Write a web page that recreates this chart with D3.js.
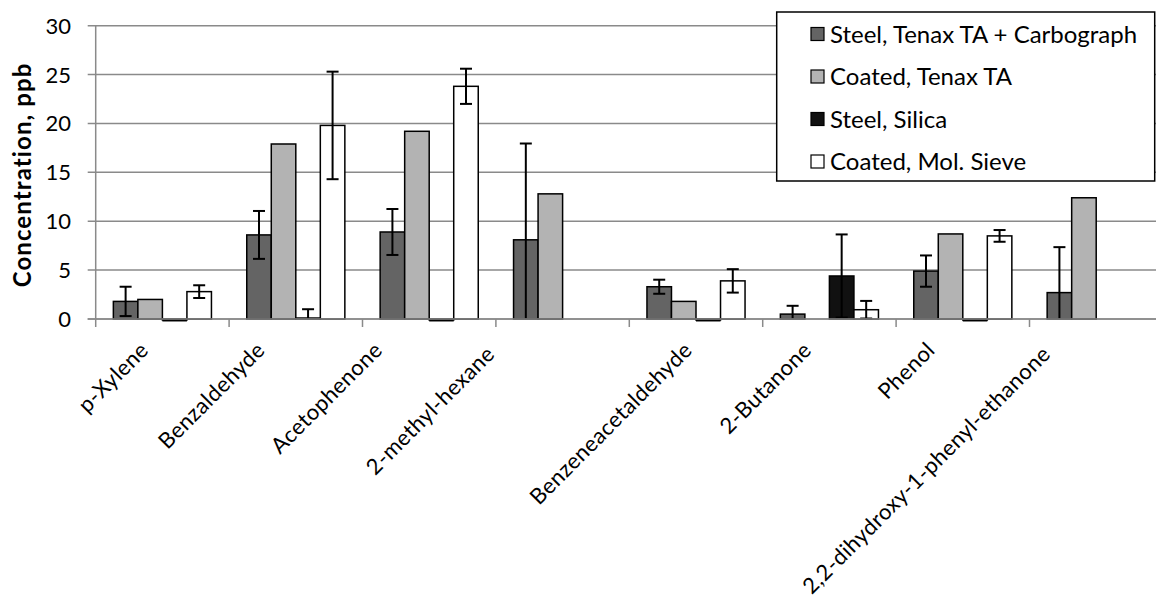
<!DOCTYPE html>
<html>
<head>
<meta charset="utf-8">
<script src="https://cdn.jsdelivr.net/npm/d3@7/dist/d3.min.js"></script>
<style>
  html, body { margin: 0; padding: 0; background: #fff; }
  svg { display: block; font-family: Lato, "Open Sans", sans-serif; }
</style>
</head>
<body>
<svg id="chart" width="1156" height="603"></svg>
<script>
// ---- data ----
const categories = ["p-Xylene", "Benzaldehyde", "Acetophenone", "2-methyl-hexane",
  "Benzeneacetaldehyde", "2-Butanone", "Phenol", "2,2-dihydroxy-1-phenyl-ethanone"];
const seriesNames = ["Steel, Tenax TA + Carbograph", "Coated, Tenax TA", "Steel, Silica", "Coated, Mol. Sieve"];
const steelTenaxCarb    = [1.8, 8.6, 8.9, 8.1, 3.3, 0.5, 4.9, 2.7];
const steelTenaxCarbErr = [1.5, 2.45, 2.35, 9.85, 0.72, 0.85, 1.6, 4.65];
const coatedTenax       = [2.0, 17.9, 19.2, 12.8, 1.8, 0, 8.7, 12.4];
const coatedTenaxErr    = [0, 0, 0, 0, 0, 0, 0, 0];
const steelSilica       = [-0.1, 0.1, -0.1, 0, -0.1, 4.4, -0.1, 0];
const steelSilicaErr    = [0, 0.9, 0, 0, 0, 4.25, 0, 0];
const coatedMolSieve    = [2.8, 19.8, 23.8, 0, 3.9, 0.95, 8.5, 0];
const coatedMolSieveErr = [0.65, 5.5, 1.8, 0, 1.2, 0.9, 0.6, 0];
const yTicks = [0, 5, 10, 15, 20, 25, 30];
const yTitle = "Concentration, ppb";

// ---- layout / style (not data) ----
const colors = ["#646464", "#b3b3b3", "#111111", "#ffffff"];
const labelShift = [-18, -35, -51, -72, -8, -22, -32, -50];
const labelDrop  = [27, 27, 27, 31, 27, 27, 27, 31];

const values = [steelTenaxCarb, coatedTenax, steelSilica, coatedMolSieve];
const errors = [steelTenaxCarbErr, coatedTenaxErr, steelSilicaErr, coatedMolSieveErr];

const svg = d3.select("#chart");
const plotLeft = 95.7, plotTop = 25.7, plotBottom = 319, step = 133.4;

const x = d3.scaleBand().domain(categories).range([plotLeft, plotLeft + step * categories.length]).padding(0);
const xs = d3.scaleBand().domain(d3.range(4)).range([0, x.bandwidth()]).paddingInner(0).paddingOuter(0.72);
const y = d3.scaleLinear().domain([0, 30]).range([plotBottom, plotTop]);

// gridlines
svg.append("g").selectAll("line").data(yTicks).join("line")
  .attr("x1", plotLeft - 8).attr("x2", 1156)
  .attr("y1", d => y(d)).attr("y2", d => y(d))
  .attr("stroke", "#8a8a8a").attr("stroke-width", 1.5);

// y axis line
svg.append("line").attr("x1", plotLeft).attr("x2", plotLeft).attr("y1", y(30)).attr("y2", y(0))
  .attr("stroke", "#8a8a8a").attr("stroke-width", 1.5);

// y tick labels
svg.append("g").selectAll("text").data(yTicks).join("text")
  .attr("x", 71).attr("y", d => y(d)).attr("dy", "0.36em")
  .attr("text-anchor", "end").attr("font-size", 22).attr("fill", "#000")
  .text(d => d);

// y title
svg.append("text")
  .attr("transform", `translate(31,${175}) rotate(-90)`)
  .attr("text-anchor", "middle").attr("font-size", 24).attr("font-weight", "bold")
  .attr("letter-spacing", 1.1)
  .text(yTitle);

// bars
const groups = svg.append("g").selectAll("g").data(categories).join("g")
  .attr("transform", d => `translate(${x(d)},0)`);

groups.each(function (cat, ci) {
  const g = d3.select(this);
  for (let s = 0; s < 4; s++) {
    const v = values[s][ci];
    if (v === 0) continue;
    const y0 = y(Math.max(0, v)), y1 = y(Math.min(0, v));
    g.append("rect")
      .attr("x", xs(s)).attr("width", xs.bandwidth())
      .attr("y", y0).attr("height", Math.max(0.01, y1 - y0))
      .attr("fill", colors[s]).attr("stroke", "#000").attr("stroke-width", 1.5);
  }
});

// x axis line + ticks
svg.append("line").attr("x1", plotLeft - 8).attr("x2", 1156).attr("y1", y(0)).attr("y2", y(0))
  .attr("stroke", "#8a8a8a").attr("stroke-width", 1.5);
svg.append("g").selectAll("line").data(categories).join("line")
  .attr("x1", d => x(d)).attr("x2", d => x(d))
  .attr("y1", y(0)).attr("y2", y(0) + 8)
  .attr("stroke", "#8a8a8a").attr("stroke-width", 1.5);

// negative bars drawn over axis
groups.each(function (cat, ci) {
  const g = d3.select(this);
  for (let s = 0; s < 4; s++) {
    const v = values[s][ci];
    if (v >= 0) continue;
    g.append("line")
      .attr("x1", xs(s)).attr("x2", xs(s) + xs.bandwidth())
      .attr("y1", y(v) + 0.5).attr("y2", y(v) + 0.5)
      .attr("stroke", "#000").attr("stroke-width", 2);
  }
});

// error bars
groups.each(function (cat, ci) {
  const g = d3.select(this);
  for (let s = 0; s < 4; s++) {
    const v = values[s][ci], e = errors[s][ci];
    if (!e) continue;
    const cx = xs(s) + xs.bandwidth() / 2;
    const hi = v + e, lo = Math.max(0, v - e);
    g.append("line").attr("x1", cx).attr("x2", cx).attr("y1", y(hi)).attr("y2", y(lo))
      .attr("stroke", "#000").attr("stroke-width", 2);
    g.append("line").attr("x1", cx - 6).attr("x2", cx + 6).attr("y1", y(hi)).attr("y2", y(hi))
      .attr("stroke", "#000").attr("stroke-width", 2);
    if (v - e > 0) {
      g.append("line").attr("x1", cx - 6).attr("x2", cx + 6).attr("y1", y(lo)).attr("y2", y(lo))
        .attr("stroke", "#000").attr("stroke-width", 2);
    }
  }
});

// x labels
svg.append("g").selectAll("text").data(categories).join("text")
  .attr("transform", (d, i) => `translate(${x(d) + x.bandwidth() / 2 + labelShift[i]},${y(0) + labelDrop[i]}) rotate(-45)`)
  .attr("text-anchor", "end").attr("dy", "0.35em").attr("font-size", 22)
  .attr("letter-spacing", 0.4)
  .text(d => d);

// legend
const lg = svg.append("g");
lg.append("rect").attr("x", 776.7).attr("y", 12).attr("width", 378).attr("height", 169)
  .attr("fill", "#fff").attr("stroke", "#000").attr("stroke-width", 1.5);
const items = lg.selectAll("g").data(seriesNames).join("g")
  .attr("transform", (d, i) => `translate(0,${34 + i * 42.5})`);
items.append("rect").attr("x", 811).attr("y", -6.5).attr("width", 13).attr("height", 13)
  .attr("fill", (d, i) => colors[i]).attr("stroke", "#000").attr("stroke-width", 1.2);
items.append("text").attr("x", 830).attr("dy", "0.36em").attr("font-size", 24)
  .text(d => d);
</script>
</body>
</html>
